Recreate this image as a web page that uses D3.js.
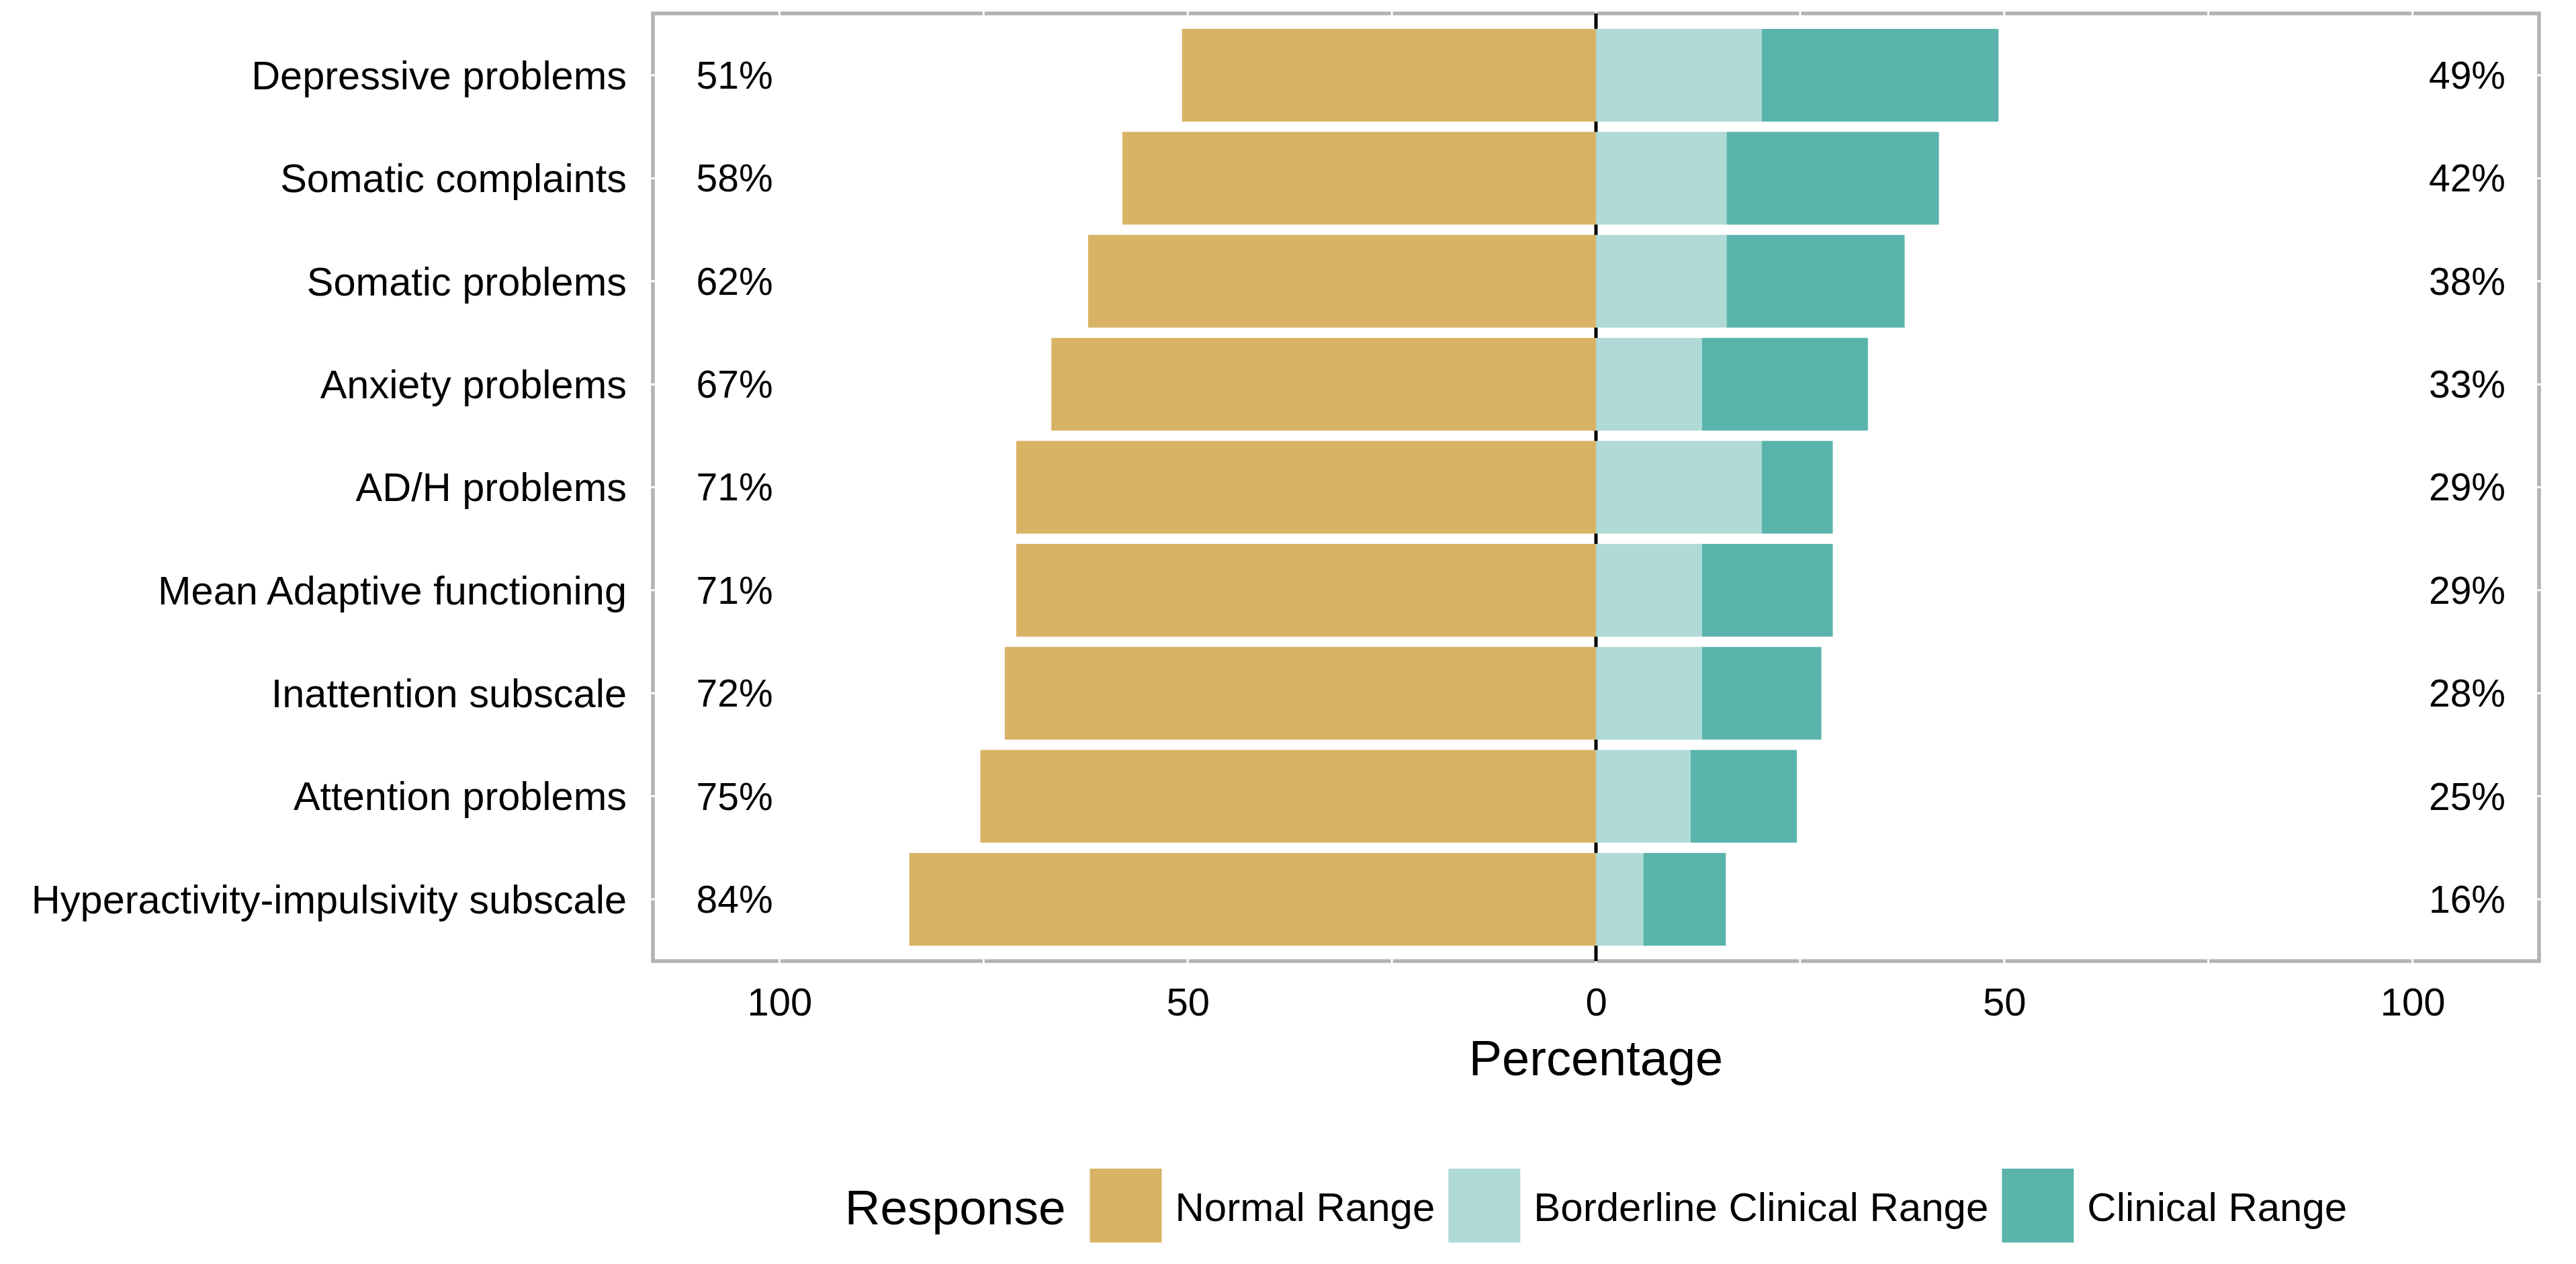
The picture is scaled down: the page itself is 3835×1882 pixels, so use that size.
<!DOCTYPE html>
<html>
<head>
<meta charset="utf-8">
<script src="https://cdn.jsdelivr.net/npm/d3@7"></script>
<style>
  html, body { margin: 0; padding: 0; background: #fff; }
  svg { display: block; font-family: "Liberation Sans", Arial, sans-serif; }
</style>
</head>
<body>
<svg id="chart"></svg>
<script>
//
// Data
//

const CATEGORIES = [
  `Depressive problems`,
  `Somatic complaints`,
  `Somatic problems`,
  `Anxiety problems`,
  `AD/H problems`,
  `Mean Adaptive functioning`,
  `Inattention subscale`,
  `Attention problems`,
  `Hyperactivity-impulsivity subscale`,
]
const NORMAL = [50.7, 58.0, 62.2, 66.7, 71.0, 71.0, 72.4, 75.4, 84.1]
const BORDERLINE = [20.3, 16.0, 16.0, 13.0, 20.3, 13.0, 13.0, 11.6, 5.8]
const CLINICAL = [29.0, 26.0, 21.8, 20.3, 8.7, 16.0, 14.6, 13.0, 10.1]
const LEFT_LABELS = [`51%`, `58%`, `62%`, `67%`, `71%`, `71%`, `72%`, `75%`, `84%`]
const RIGHT_LABELS = [`49%`, `42%`, `38%`, `33%`, `29%`, `29%`, `28%`, `25%`, `16%`]
const X_TICKS = [-100, -50, 0, 50, 100]
const X_GRID = [-100, -75, -50, -25, 0, 25, 50, 75, 100]
const RESPONSES = [`Normal Range`, `Borderline Clinical Range`, `Clinical Range`]

//
// Configuration
//

const WIDTH = 3835
const HEIGHT = 1882
const COLORS = [`#d8b365`, `#afdad6`, `#5ab4ac`]
const BORDER_COLOR = `#b3b3b3`
const panel = { left: 972, right: 3780, top: 20, bottom: 1431 }

const svg = d3.select(`#chart`).attr(`width`, WIDTH).attr(`height`, HEIGHT)

const x = d3.scaleLinear().domain([-115.5, 115.5]).range([panel.left, panel.right])
const y = d3.scaleBand()
  .domain(CATEGORIES)
  .range([panel.top, panel.bottom])
  .paddingInner(0.1)
  .paddingOuter(0.15)

// stacked segments: normal goes left from 0, the other two stack right
const rows = CATEGORIES.map((c, i) => ({
  cat: c,
  segs: [
    { x0: -NORMAL[i], x1: 0, k: 0 },
    { x0: 0, x1: BORDERLINE[i], k: 1 },
    { x0: BORDERLINE[i], x1: BORDERLINE[i] + CLINICAL[i], k: 2 },
  ],
}))

//
// Panel
//

svg.append(`rect`)
  .attr(`x`, panel.left)
  .attr(`y`, panel.top)
  .attr(`width`, panel.right - panel.left)
  .attr(`height`, panel.bottom - panel.top)
  .attr(`fill`, `none`)
  .attr(`stroke`, BORDER_COLOR)
  .attr(`stroke-width`, 5.5)

// white grid lines only show where they cut the border
svg.append(`g`).selectAll(`line`).data(X_GRID).join(`line`)
  .attr(`x1`, (d) => x(d)).attr(`x2`, (d) => x(d))
  .attr(`y1`, panel.top - 4).attr(`y2`, panel.bottom + 4)
  .attr(`stroke`, `#fff`).attr(`stroke-width`, 3)

svg.append(`g`).selectAll(`line`).data(CATEGORIES).join(`line`)
  .attr(`x1`, panel.left - 4).attr(`x2`, panel.right + 4)
  .attr(`y1`, (d) => y(d) + y.bandwidth() / 2)
  .attr(`y2`, (d) => y(d) + y.bandwidth() / 2)
  .attr(`stroke`, `#fff`).attr(`stroke-width`, 3)

svg.append(`line`)
  .attr(`x1`, x(0)).attr(`x2`, x(0))
  .attr(`y1`, panel.top).attr(`y2`, panel.bottom)
  .attr(`stroke`, `#000`).attr(`stroke-width`, 5)

//
// Bars
//

svg.append(`g`).selectAll(`g`).data(rows).join(`g`)
  .selectAll(`rect`).data((d) => d.segs.map((s) => ({ ...s, cat: d.cat }))).join(`rect`)
  .attr(`x`, (d) => x(d.x0))
  .attr(`width`, (d) => x(d.x1) - x(d.x0))
  .attr(`y`, (d) => y(d.cat))
  .attr(`height`, y.bandwidth())
  .attr(`fill`, (d) => COLORS[d.k])

//
// Labels
//

const FONT = 57

svg.append(`g`).selectAll(`text`).data(CATEGORIES).join(`text`)
  .attr(`x`, 933)
  .attr(`y`, (d) => y(d) + y.bandwidth() / 2)
  .attr(`dy`, `0.35em`)
  .attr(`text-anchor`, `end`)
  .attr(`font-size`, 59.5)
  .attr(`fill`, `#000`)
  .text((d) => d)

svg.append(`g`).selectAll(`text`).data(LEFT_LABELS).join(`text`)
  .attr(`x`, x(-105.5))
  .attr(`y`, (d, i) => y(CATEGORIES[i]) + y.bandwidth() / 2)
  .attr(`dy`, `0.35em`)
  .attr(`text-anchor`, `middle`)
  .attr(`font-size`, FONT)
  .text((d) => d)

svg.append(`g`).selectAll(`text`).data(RIGHT_LABELS).join(`text`)
  .attr(`x`, x(106.7))
  .attr(`y`, (d, i) => y(CATEGORIES[i]) + y.bandwidth() / 2)
  .attr(`dy`, `0.35em`)
  .attr(`text-anchor`, `middle`)
  .attr(`font-size`, FONT)
  .text((d) => d)

// x axis
const xAxis = svg.append(`g`)
  .attr(`transform`, `translate(0,${panel.bottom + 40})`)
  .call(d3.axisBottom(x).tickValues(X_TICKS).tickFormat((d) => Math.abs(d)).tickSize(0).tickPadding(0))
xAxis.select(`.domain`).remove()
xAxis.selectAll(`text`)
  .attr(`font-size`, FONT + 1)
  .attr(`font-family`, null)
  .attr(`fill`, `#000`)
  .attr(`dy`, `0.71em`)

svg.append(`text`)
  .attr(`x`, x(0))
  .attr(`y`, 1601)
  .attr(`text-anchor`, `middle`)
  .attr(`font-size`, 74)
  .text(`Percentage`)

//
// Legend
//

const legend = svg.append(`g`)
const KEY = 107
const baseline = 1818
const keyTop = 1740

const title = legend.append(`text`)
  .attr(`y`, 1823)
  .attr(`font-size`, 73)
  .text(`Response`)

let cursor = title.node().getComputedTextLength() + 36
RESPONSES.forEach((r, i) => {
  legend.append(`rect`)
    .attr(`x`, cursor).attr(`y`, keyTop)
    .attr(`width`, KEY).attr(`height`, 110)
    .attr(`fill`, COLORS[i])
  cursor += KEY + 20
  const t = legend.append(`text`)
    .attr(`x`, cursor).attr(`y`, baseline)
    .attr(`font-size`, 60)
    .text(r)
  cursor += t.node().getComputedTextLength() + 20
})
cursor -= 20
legend.attr(`transform`, `translate(${x(0) - cursor / 2},0)`)
</script>
</body>
</html>
